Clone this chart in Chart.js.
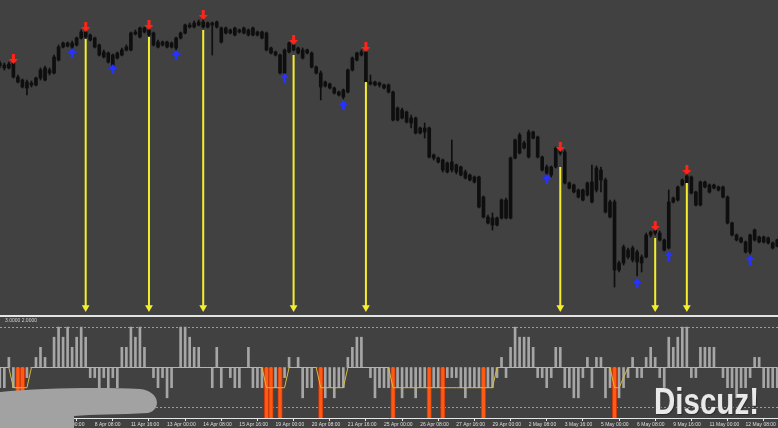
<!DOCTYPE html>
<html>
<head>
<meta charset="utf-8">
<title>H4 signals</title>
<script src="https://cdn.jsdelivr.net/npm/chart.js@4.4.1/dist/chart.umd.min.js"></script>
<style>
  body { margin: 0; background: #414141; }
  #wrap { position: relative; width: 778px; height: 428px; background: #414141; overflow: hidden; }
  #priceBox { position: absolute; left: 0; top: 0; }
  #sep { position: absolute; left: 0; top: 315px; width: 778px; height: 2px; background: #e4e4e4; }
  #oscBox { position: absolute; left: 0; top: 317px; }
  #smudge { position: absolute; left: 0; top: 384px; }
  #mark { position: absolute; left: 654px; top: 382px; font: bold 36px "Liberation Sans"; line-height: 40px;
          color: #e9e9e9; transform: scaleX(0.82); transform-origin: left top;
          text-shadow: 1px 1px 1px #2a2a2a, 0 0 2px #555; white-space: nowrap; }
</style>
</head>
<body>
<div id="wrap">
  <div id="priceBox"><canvas id="price" width="778" height="315"></canvas></div>
  <div id="sep"></div>
  <div id="oscBox"><canvas id="osc" width="778" height="111"></canvas></div>
  <svg id="smudge" width="170" height="44">
    <path d="M0,8 C40,4 100,3 140,5 C160,7 162,26 148,29 C120,31 92,30 74,32 L74,44 L0,44 Z" fill="#a2a2a2"/>
  </svg>
  <div id="mark">Discuz!</div>
</div>
<script>
// H4 bars, 7 Apr - 12 May (price in chart points)
const open = [
  253,251,248,253,239,236,234,231,231,238, 236,246,243,256,269,270,273,271,278,284,
  281,278,271,264,263,261,258,261,266,266, 282,279,284,286,283,274,271,274,273,268,
  278,283,289,289,291,294,293,291,294,288, 283,286,281,286,283,286,281,284,284,283,
  268,264,261,243,264,271,268,266,263,263, 249,243,234,232,228,224,219,224,246,256,
  261,264,234,231,233,231,231,224,196,206, 204,198,198,183,188,188,161,158,156,153,
  146,151,149,144,141,139,139,119,99,91,   98,98,116,98,158,163,173,159,178,179,
  159,149,141,149,169,164,133,131,126,126, 121,134,126,146,136,114,114,53,53,66,
  56,64,53,59,81,83,83,76,68,114,          116,131,133,139,124,111,134,131,128,129,
  129,119,93,81,78,74,64,76,79,74,         78,73,70
];
const high = [
  255,253,254,256,241,237,236,235,239,248, 250,248,261,271,274,274,275,279,286,286,
  282,279,272,266,264,262,264,268,271,284, 286,289,289,288,284,276,275,275,274,279,
  284,292,293,295,296,297,294,294,295,289, 289,287,289,287,289,287,289,285,285,284,
  269,265,262,267,274,273,269,268,267,264, 250,245,235,233,229,225,227,247,259,264,
  266,266,241,235,234,232,232,225,209,208, 205,201,199,189,193,189,162,159,157,154,
  176,152,150,146,142,140,140,120,101,103, 99,117,118,159,177,183,175,186,185,180,
  160,151,150,169,171,166,134,132,127,127, 134,151,150,149,138,116,116,55,71,68,
  70,66,61,83,85,87,85,77,126,119,         130,137,142,140,125,135,135,132,132,130,
  130,120,94,82,79,75,82,87,80,80,         79,74,77
];
const low = [
  248,246,247,238,233,228,221,229,230,236, 235,241,242,255,268,269,267,270,277,278,
  275,268,260,258,253,248,257,260,265,265, 281,278,283,280,270,268,270,268,268,266,
  277,282,288,288,290,288,288,261,288,273, 282,282,280,283,282,280,280,280,277,265,
  262,260,242,242,263,265,262,257,262,248, 242,216,229,227,222,220,217,223,245,255,
  260,233,231,230,229,227,223,195,195,197, 193,188,182,182,178,158,156,153,144,143,
  144,142,140,137,135,133,108,98,92,86,    90,97,97,97,157,162,167,158,177,158,
  145,141,139,148,161,132,127,123,118,115, 120,113,124,124,103,98,29,44,51,57,
  54,40,44,58,79,81,75,65,67,113,          115,130,132,122,110,110,128,123,127,125,
  118,92,80,75,73,63,62,75,73,73,          72,67,69
];
const close = [
  250,248,252,239,234,229,228,233,238,246, 248,243,259,269,273,273,269,278,284,279,
  276,269,261,259,254,249,263,266,269,283, 284,288,288,281,271,269,274,269,269,278,
  283,291,291,293,294,289,289,293,289,274, 288,283,288,284,288,281,288,281,278,266,
  263,261,243,266,273,266,263,258,266,249, 243,229,230,228,223,221,226,246,258,263,
  264,234,232,234,231,228,224,196,208,198, 194,193,183,188,184,159,158,154,146,144,
  154,144,141,138,136,134,109,99,93,98,    91,116,98,158,176,181,168,184,184,159,
  146,143,149,168,163,133,128,124,119,116, 133,114,148,136,104,99,46,46,69,59,
  68,54,59,81,84,86,76,66,114,118,         129,136,140,123,111,134,129,124,131,126,
  119,93,81,76,74,64,81,86,74,79,          73,68,76
];

// arrow signals on the price panel
const dnIdx = [3, 19, 33, 45, 65, 81, 124, 145, 152];
const dnVal = [257, 289, 291, 301, 276, 269, 169, 90, 146];
const upIdx = [16, 25, 39, 63, 76, 121, 141, 148, 166];
const upVal = [263, 247, 261, 238, 211, 137, 33, 60, 56];
// yellow pointers from the sell bars down to the oscillator
const ptrIdx = [19, 33, 45, 65, 81, 124, 145, 152];
const ptrFrom = [277, 279, 286, 261, 234, 149, 78, 133];
const ptrTo = 8.5;

// oscillator
const hist = [
  -2,-2,1,-2,0,0,-1,0,1,2,    1,0,3,4,3,4,2,3,4,3,
  -1,-1,-2,-1,-2,-1,-2,2,2,4, 3,4,2,0,-1,-2,-1,-3,-2,0,
  4,4,3,2,2,0,0,-2,2,-2,      0,-1,-2,-2,0,2,-2,-2,-2,0,
  0,-2,0,-1,1,0,1,-3,-2,-2,   0,0,-3,-2,-3,-2,-2,1,2,3,
  3,0,-1,-3,-2,-2,-2,0,-2,-3, -2,-2,-3,-2,-2,0,-2,-2,0,-1,
  -1,-1,-2,-3,-2,-2,-2,0,-2,-2, -1,1,-1,2,4,3,3,3,2,-1,
  -1,-2,-1,2,2,-2,-2,-3,-3,-1, 1,-2,1,1,-3,-2,0,-3,-2,-1,
  1,-1,-1,1,2,1,-1,-2,3,2,    3,4,4,-1,-1,2,2,2,2,0,
  -1,-2,-2,-3,-2,-2,-1,1,1,-2, -2,-2,-2
];
const trend = [
  0,0,0,-2,-2,-2,-2,0,0,0,    0,0,0,0,0,0,0,0,0,0,
  0,0,0,0,0,0,0,0,0,0,        0,0,0,0,0,0,0,0,0,0,
  0,0,0,0,0,0,0,0,0,0,        0,0,0,0,0,0,0,0,0,-2,
  -2,-2,-2,-2,0,0,0,0,0,0,    0,-2,-2,-2,-2,-2,-2,0,0,0,
  0,0,0,0,0,0,0,-2,-2,-2,     -2,-2,-2,-2,-2,-2,-2,-2,-2,-2,
  -2,-2,-2,-2,-2,-2,-2,-2,-2,-2, 0,0,0,0,0,0,0,0,0,0,
  0,0,0,0,0,0,0,0,0,0,        0,0,0,0,0,0,-2,-2,-1,0,
  0,0,0,0,0,0,0,0,0,0,        0,0,0,0,0,0,0,0,0,0,
  0,0,0,0,0,0,0,0,0,0,        0,0,0
];
const alertIdx = [4, 5, 59, 60, 62, 71, 87, 95, 98, 107, 136];
const alertLevel = -5;
const levels = [-4, 4];
const levelCaption = '3.0000 2.0000';

const tickAt = [13,21,29,37,45,53,61,69,77,85,93,101,109,117,125,133,141,149,157,165];
const tickText = ['7 Apr 00:00','8 Apr 08:00','11 Apr 16:00','13 Apr 00:00','14 Apr 08:00','15 Apr 16:00',
  '19 Apr 00:00','20 Apr 08:00','21 Apr 16:00','25 Apr 00:00','26 Apr 08:00','27 Apr 16:00','29 Apr 00:00',
  '2 May 08:00','3 May 16:00','5 May 00:00','6 May 08:00','9 May 16:00','11 May 00:00','12 May 08:00'];

const viewFrom = 0.04, viewTo = 172.17;
const bars = close.map((_, i) => i);

function arrowIcon(color, up) {
  const c = document.createElement('canvas');
  c.width = 9; c.height = 10;
  const g = c.getContext('2d');
  g.fillStyle = color;
  g.beginPath();
  if (up) {
    g.moveTo(4.5, 0); g.lineTo(9, 5); g.lineTo(6, 5); g.lineTo(6, 10); g.lineTo(3, 10); g.lineTo(3, 5); g.lineTo(0, 5);
  } else {
    g.moveTo(4.5, 10); g.lineTo(9, 5); g.lineTo(6, 5); g.lineTo(6, 0); g.lineTo(3, 0); g.lineTo(3, 5); g.lineTo(0, 5);
  }
  g.closePath();
  g.fill();
  return c;
}

const wicks = bars.map(i => ({ x: i, y: [low[i], high[i]] }));
const bodies = bars.map(i => ({ x: i, y: [Math.min(open[i], close[i]), Math.max(open[i], close[i])] }));

const pointers = ptrIdx.map((i, k) => ({
  type: 'line',
  data: [{ x: i, y: ptrFrom[k] }, { x: i, y: ptrTo }],
  borderColor: '#f4ee2c',
  borderWidth: 2,
  pointRadius: [0, 4.5],
  pointStyle: 'triangle',
  pointRotation: 180,
  pointBackgroundColor: '#f4ee2c',
  pointBorderColor: '#f4ee2c',
  pointBorderWidth: 0,
  order: 1
}));

const noUi = { legend: { display: false }, tooltip: { enabled: false } };

new Chart(document.getElementById('price'), {
  type: 'bar',
  data: {
    datasets: [
      { type: 'scatter', data: dnIdx.map((i, k) => ({ x: i, y: dnVal[k] })), pointStyle: arrowIcon('#ff2418', false), pointRadius: 5, order: 0 },
      { type: 'scatter', data: upIdx.map((i, k) => ({ x: i, y: upVal[k] })), pointStyle: arrowIcon('#2632ff', true), pointRadius: 5, order: 0 },
      ...pointers,
      { data: bodies, backgroundColor: '#0e0e0e', barThickness: 3, grouped: false, order: 2 },
      { data: wicks, backgroundColor: '#0e0e0e', barThickness: 1, grouped: false, order: 3 }
    ]
  },
  options: {
    responsive: false,
    animation: false,
    events: [],
    layout: { autoPadding: false, padding: 0 },
    plugins: noUi,
    scales: {
      x: { type: 'linear', min: viewFrom, max: viewTo, offset: false, display: false },
      y: { min: 1, max: 316, display: false }
    }
  }
});

new Chart(document.getElementById('osc'), {
  type: 'bar',
  data: {
    datasets: [
      { type: 'line', data: bars.map(i => ({ x: i, y: trend[i] })), borderColor: '#d9bb3c', borderWidth: 1, pointRadius: 0, order: 0 },
      { data: alertIdx.map(i => ({ x: i, y: [0, alertLevel] })), backgroundColor: '#ff5a14', borderColor: '#c8380e',
        borderWidth: { left: 1, right: 1 }, borderSkipped: false, barThickness: 4.5, grouped: false, order: 1 },
      { data: bars.map(i => ({ x: i, y: hist[i] })), backgroundColor: '#a6a6a6', barThickness: 2, grouped: false, order: 2 }
    ]
  },
  options: {
    responsive: false,
    animation: false,
    events: [],
    layout: { autoPadding: false, padding: 0 },
    plugins: noUi,
    scales: {
      x: {
        type: 'linear', min: viewFrom, max: viewTo, offset: false,
        afterBuildTicks: s => { s.ticks = tickAt.map(v => ({ value: v })); },
        afterFit: s => { s.height = 10; },
        ticks: { autoSkip: false, maxRotation: 0, minRotation: 0, align: 'start', padding: 1,
                 color: '#dedede', font: { family: 'Liberation Sans', size: 5 },
                 callback: (v, k) => tickText[k] },
        grid: { drawOnChartArea: false, tickLength: 3, color: '#e6e6e6', lineWidth: 1 },
        border: { display: true, color: '#e6e6e6', width: 1 }
      },
      y: {
        min: -5, max: 5,
        afterBuildTicks: s => { s.ticks = levels.map(v => ({ value: v })); },
        afterFit: s => { s.width = 0; },
        ticks: { display: false },
        grid: { color: '#9c9c9c', drawTicks: false },
        border: { display: false, dash: [2, 2] }
      }
    }
  },
  plugins: [{
    id: 'levelCaption',
    afterDraw(c) {
      const g = c.ctx;
      g.save();
      g.font = '5px "Liberation Sans"';
      g.fillStyle = '#d2d2d2';
      g.textBaseline = 'middle';
      g.fillText(levelCaption, c.chartArea.left + 5, c.chartArea.top + 4);
      g.restore();
    }
  }]
});
</script>
</body>
</html>
